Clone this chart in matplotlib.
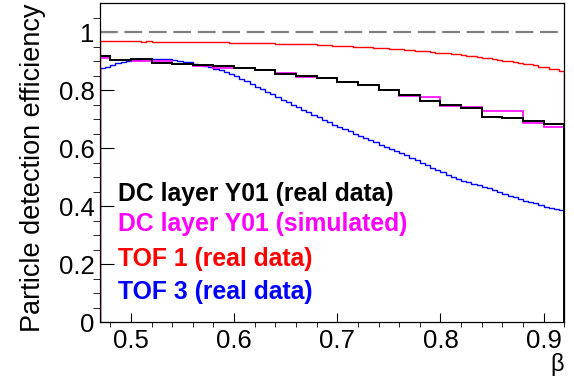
import numpy as np
import matplotlib
matplotlib.use('Agg')
import matplotlib.pyplot as plt

plt.rcParams['font.family'] = ['Liberation Sans', 'DejaVu Sans']

# coarse binning (0.02) for the drift chamber curves
coarse_edges_lo, coarse_width = 0.46, 0.02
dc_real = [0.917, 0.904, 0.907, 0.893, 0.890, 0.885, 0.883, 0.876, 0.868, 0.856,
           0.849, 0.841, 0.827, 0.819, 0.799, 0.782, 0.762, 0.750, 0.738, 0.707,
           0.703, 0.694, 0.682]
dc_sim = [0.910, 0.905, 0.901, 0.899, 0.890, 0.884, 0.876, 0.876, 0.868, 0.860,
          0.845, 0.841, 0.827, 0.819, 0.801, 0.779, 0.776, 0.745, 0.742, 0.728,
          0.728, 0.687, 0.674, 0.661]

# fine binning (0.005) for the TOF curves, starting at 0.47
fine_lo, fine_width = 0.47, 0.005
tof1 = [0.969, 0.969, 0.969, 0.968, 0.969, 0.968, 0.968, 0.968, 0.967, 0.968,
        0.967, 0.967, 0.967, 0.966, 0.966, 0.966, 0.966, 0.965, 0.965, 0.965,
        0.965, 0.964, 0.964, 0.964, 0.964, 0.963, 0.963, 0.963, 0.963, 0.962,
        0.962, 0.962, 0.961, 0.961, 0.960, 0.960, 0.959, 0.959, 0.958, 0.958,
        0.957, 0.957, 0.956, 0.955, 0.954, 0.953, 0.953, 0.952, 0.951, 0.950,
        0.949, 0.948, 0.947, 0.946, 0.945, 0.944, 0.943, 0.941, 0.940, 0.938,
        0.937, 0.936, 0.934, 0.933, 0.931, 0.929, 0.928, 0.926, 0.924, 0.923,
        0.921, 0.919, 0.917, 0.915, 0.912, 0.910, 0.907, 0.904, 0.901, 0.899,
        0.897, 0.894, 0.891, 0.889, 0.885, 0.881, 0.879, 0.871, 0.874, 0.866]
tof3 = [0.876, 0.881, 0.886, 0.892, 0.896, 0.900, 0.903, 0.905, 0.906, 0.907,
        0.908, 0.908, 0.907, 0.906, 0.904, 0.901, 0.898, 0.895, 0.891, 0.887,
        0.883, 0.879, 0.874, 0.869, 0.863, 0.855, 0.847, 0.839, 0.830, 0.821,
        0.812, 0.803, 0.794, 0.785, 0.776, 0.767, 0.758, 0.749, 0.740, 0.731,
        0.723, 0.714, 0.706, 0.697, 0.689, 0.681, 0.673, 0.665, 0.657, 0.649,
        0.642, 0.634, 0.627, 0.620, 0.612, 0.605, 0.597, 0.590, 0.583, 0.575,
        0.565, 0.558, 0.550, 0.540, 0.531, 0.523, 0.516, 0.508, 0.500, 0.494,
        0.488, 0.482, 0.476, 0.471, 0.466, 0.461, 0.455, 0.450, 0.443, 0.435,
        0.430, 0.425, 0.419, 0.414, 0.409, 0.403, 0.398, 0.393, 0.390, 0.388]

labels = ['DC layer Y01 (real data)', 'DC layer Y01 (simulated)',
          'TOF 1 (real data)', 'TOF 3 (real data)']
colors = ['black', '#ff00ff', '#ff0000', '#0000ff']

fig = plt.figure(figsize=(5.74, 3.78), dpi=100)
ax = fig.add_axes([0.1742, 0.1481, 0.8088, 0.8439])

coarse_real_edges = coarse_edges_lo + coarse_width * np.arange(len(dc_real) + 1)
coarse_sim_edges = coarse_edges_lo + coarse_width * np.arange(len(dc_sim) + 1)
fine_edges = fine_lo + fine_width * np.arange(len(tof1) + 1)

ax.axhline(1.0, color='#808080', lw=1.6, dashes=(8, 3))
ax.stairs(tof3, fine_edges, color=colors[3], lw=1.0)
ax.stairs(tof1, fine_edges, color=colors[2], lw=1.0)
ax.stairs(dc_sim, coarse_sim_edges, color=colors[1], lw=1.2)
ax.stairs(dc_real, coarse_real_edges, color=colors[0], lw=1.4)

ax.set_xlim(0.47, 0.92)
ax.set_ylim(0, 1.1)

ax.set_xticks([0.5, 0.6, 0.7, 0.8, 0.9])
ax.set_xticklabels(['0.5', '0.6', '0.7', '0.8', '0.9'])
ax.set_xticks(np.arange(0.48, 0.921, 0.02), minor=True)
ax.set_yticks([0, 0.2, 0.4, 0.6, 0.8, 1.0])
ax.set_yticklabels(['0', '0.2', '0.4', '0.6', '0.8', '1'])
ax.set_yticks(np.arange(0.05, 1.09, 0.05), minor=True)

ax.tick_params(axis='both', direction='in', labelsize=18.5, width=0.8)
ax.tick_params(axis='x', which='major', length=6.5, pad=5)
ax.tick_params(axis='x', which='minor', length=3.6)
ax.tick_params(axis='y', which='major', length=10, pad=4)
ax.tick_params(axis='y', which='minor', length=5)
for s in ax.spines.values():
    s.set_linewidth(0.9)

ax.set_ylabel('Particle detection efficiency', fontsize=19.5, loc='top', labelpad=9)
ax.set_xlabel('β', fontsize=17, loc='right', labelpad=0)

# legend-like text labels
text_y = [0.417, 0.3145, 0.194, 0.079]
for lab, col, ty in zip(labels, colors, text_y):
    ax.text(0.4874, ty, lab, color=col, fontsize=17.8, fontweight='bold', va='baseline')

fig.savefig('out.png', dpi=100)
